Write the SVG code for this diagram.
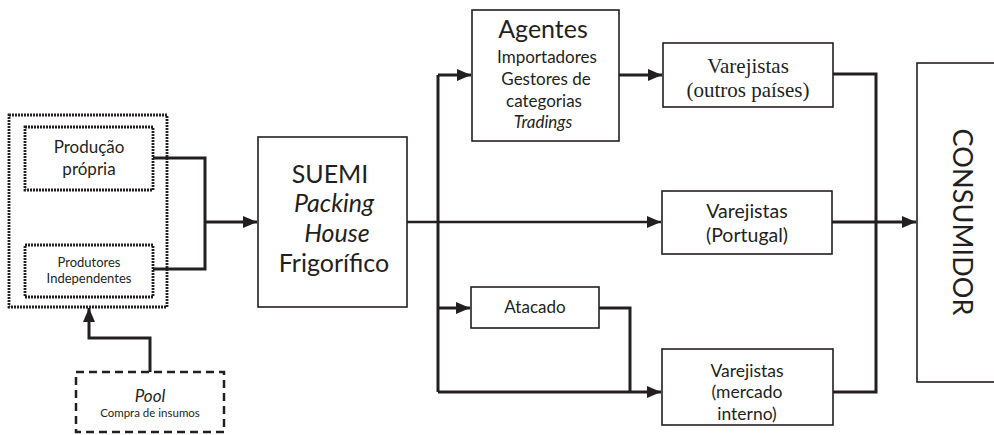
<svg xmlns="http://www.w3.org/2000/svg" width="994" height="435" viewBox="0 0 994 435">
<style>
.box{fill:#fff;stroke:#231f20;stroke-width:1.6}
.dot{fill:none;stroke:#231f20;stroke-width:2.8;stroke-dasharray:2 1}
.dash{fill:none;stroke:#231f20;stroke-width:2.5;stroke-dasharray:8 5}
.c{fill:none;stroke:#231f20;stroke-width:3}
.t{font-family:Lato,"Liberation Sans",sans-serif;fill:#231f20;text-anchor:middle}
.s{font-family:"Liberation Serif",serif;fill:#231f20;text-anchor:middle}
.i{font-style:italic}
</style>
<defs>
<marker id="ah" markerUnits="userSpaceOnUse" markerWidth="14" markerHeight="14" viewBox="0 0 14 14" refX="14" refY="7" orient="auto">
<path d="M0,1 L14,7 L0,13 z" fill="#231f20"/>
</marker>
</defs>
<g id="connectors">
<path class="c" d="M153,158 H205 V269 H153"/>
<path class="c" d="M205,222 H257" marker-end="url(#ah)"/>
<path class="c" d="M150,372 V338 H89 V308" marker-end="url(#ah)"/>
<path class="c" d="M407,222 H661" marker-end="url(#ah)" style="stroke-width:2.6"/>
<path class="c" d="M438,75 V392" />
<path class="c" d="M438,75 H471" marker-end="url(#ah)"/>
<path class="c" d="M438,308 H470" marker-end="url(#ah)"/>
<path class="c" d="M438,392 H661" marker-end="url(#ah)"/>
<path class="c" d="M599,308 H630 V392"/>
<path class="c" d="M619,75 H662" marker-end="url(#ah)"/>
<path class="c" d="M833,74 H876 V392 H833"/>
<path class="c" d="M832,222 H916" marker-end="url(#ah)"/>
</g>
<g id="origem">
<rect class="dot" x="9" y="115" width="158" height="192"/>
</g>
<g id="producao-propria">
<rect class="dot" x="25" y="127" width="128" height="63"/>
<text class="t" x="89" y="153" font-size="17">Produção</text>
<text class="t" x="89" y="175" font-size="17">própria</text>
</g>
<g id="produtores">
<rect class="dot" x="25" y="245" width="128" height="52"/>
<text class="t" x="89" y="267" font-size="13">Produtores</text>
<text class="t" x="89" y="283" font-size="13">Independentes</text>
</g>
<g id="pool">
<rect class="dash" x="76" y="372" width="148" height="60"/>
<text class="t i" x="150" y="402" font-size="17">Pool</text>
<text class="t" x="150" y="417" font-size="11.5">Compra de insumos</text>
</g>
<g id="suemi">
<rect class="box" x="258" y="137" width="149" height="170"/>
<text class="t" x="330" y="183" font-size="25">SUEMI</text>
<text class="t i" x="334" y="212" font-size="25">Packing</text>
<text class="t i" x="337" y="242" font-size="25">House</text>
<text class="t" x="334" y="272" font-size="25">Frigorífico</text>
</g>
<g id="agentes">
<rect class="box" x="472" y="10" width="147" height="131"/>
<text class="t" x="543" y="38" font-size="25">Agentes</text>
<text class="t" x="547" y="63" font-size="17">Importadores</text>
<text class="t" x="546" y="85" font-size="17">Gestores de</text>
<text class="t" x="544" y="107" font-size="17">categorias</text>
<text class="t i" x="543" y="128" font-size="17">Tradings</text>
</g>
<g id="atacado">
<rect class="box" x="471" y="287" width="128" height="41"/>
<text class="t" x="535" y="313" font-size="17">Atacado</text>
</g>
<g id="varejistas-outros">
<rect class="box" x="663" y="43" width="170" height="64"/>
<text class="s" x="748" y="73" font-size="21">Varejistas</text>
<text class="s" x="748" y="97" font-size="21">(outros países)</text>
</g>
<g id="varejistas-portugal">
<rect class="box" x="662" y="191" width="170" height="63"/>
<text class="t" x="747" y="218" font-size="19.5">Varejistas</text>
<text class="t" x="747" y="242" font-size="19.5">(Portugal)</text>
</g>
<g id="varejistas-mercado">
<rect class="box" x="662" y="349" width="171" height="76"/>
<text class="t" x="747" y="377" font-size="17.5">Varejistas</text>
<text class="t" x="747" y="398" font-size="17.5">(mercado</text>
<text class="t" x="747" y="420" font-size="17.5">interno)</text>
</g>
<g id="consumidor">
<rect class="box" x="917" y="63" width="90" height="319"/>
<text class="t" x="963" y="222" font-size="27" dominant-baseline="central" textLength="187" lengthAdjust="spacing" transform="rotate(90 963 222)">CONSUMIDOR</text>
</g>
</svg>
